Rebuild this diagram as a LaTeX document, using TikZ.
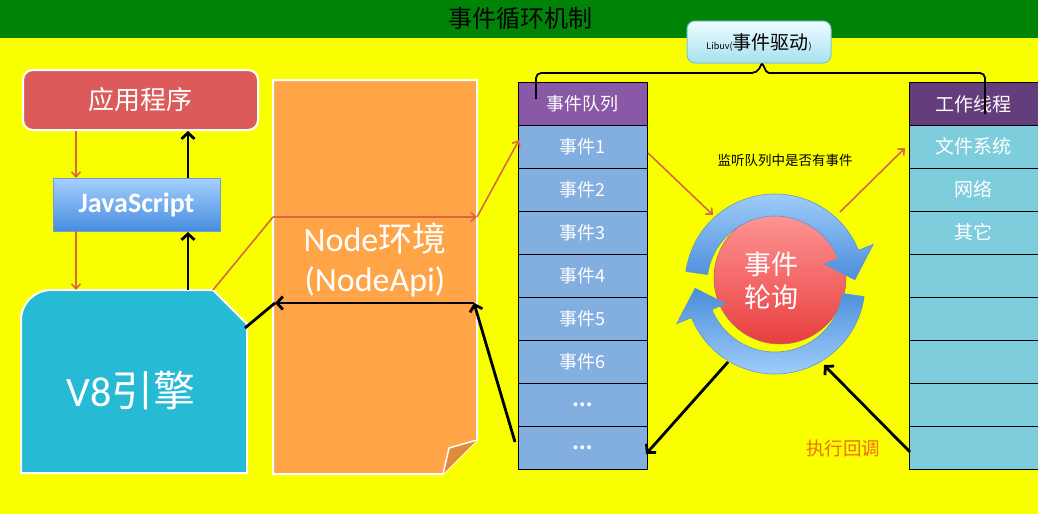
\documentclass[tikz,border=0pt]{standalone}
\usepackage{fontspec}
\setmainfont{Noto Sans CJK SC}
\newfontfamily\lat{Carlito}
\usetikzlibrary{arrows.meta}
\definecolor{bgyellow}{RGB}{250,255,0}
\definecolor{hdrgreen}{RGB}{0,132,8}
\definecolor{appred}{RGB}{221,90,90}
\definecolor{jstop}{RGB}{165,208,255}
\definecolor{jsbot}{RGB}{70,140,222}
\definecolor{jsedge}{RGB}{110,160,215}
\definecolor{v8cyan}{RGB}{38,186,212}
\definecolor{nodeor}{RGB}{255,165,72}
\definecolor{foldor}{RGB}{222,140,60}
\definecolor{qhead}{RGB}{137,88,166}
\definecolor{qrowc}{RGB}{130,174,224}
\definecolor{whead}{RGB}{100,62,124}
\definecolor{wrowc}{RGB}{125,205,220}
\definecolor{arrred}{RGB}{215,105,65}
\definecolor{cbor}{RGB}{240,110,20}
\definecolor{ringlight}{RGB}{165,208,252}
\definecolor{ringdark}{RGB}{75,142,218}
\definecolor{ringedge}{RGB}{95,150,205}
\definecolor{balltop}{RGB}{255,150,150}
\definecolor{ballbot}{RGB}{232,62,62}
\definecolor{libtop}{RGB}{240,252,255}
\definecolor{libbot}{RGB}{165,225,240}
\definecolor{libedge}{RGB}{130,195,210}
\begin{document}
\begin{tikzpicture}[x=1pt,y=-1pt,
  redarr/.style={draw=arrred,line width=1.6pt,-{Straight Barb[length=5pt,width=9pt]}},
  redline/.style={draw=arrred,line width=1.6pt},
  blkarr/.style={draw=black,line width=2.8pt,-{Straight Barb[length=6pt,width=13pt]}},
  blkline/.style={draw=black,line width=2.8pt},
  cell/.style={draw=black,line width=1pt,minimum width=129pt,minimum height=43pt,inner sep=0pt,text=white,font=\fontsize{18}{18}\selectfont},
  qcell/.style={cell,fill=qrowc},
  wcell/.style={cell,fill=wrowc},
  whitetxt/.style={text=white,inner sep=0pt}
]
\useasboundingbox (0,0) rectangle (1038,514);
\fill[bgyellow] (0,0) rectangle (1038,514);
\fill[hdrgreen] (0,0) rectangle (1038,38);
\node[font=\fontsize{24}{24}\selectfont] (title) at (520,18) {事件循环机制};

% left boxes
\node[fill=appred,draw=white,line width=2pt,rounded corners=10pt,minimum width=235pt,minimum height=60pt,text=white,font=\fontsize{26}{26}\selectfont] (app) at (140.5,100) {应用程序};
\node[top color=jstop,bottom color=jsbot,draw=jsedge,line width=0.8pt,minimum width=167pt,minimum height=53pt,text=white,font=\lat\bfseries\fontsize{28}{28}\selectfont] (js) at (136.5,204.5) {JavaScript};

% V8 shape
\filldraw[fill=v8cyan,draw=white,line width=2pt] (21,473) -- (21,320) arc[start angle=180,end angle=270,radius=30] -- (213,290) -- (247,324) -- (247,473) -- cycle;
\node[whitetxt,font=\fontsize{42}{42}\selectfont] (v8) at (131,390) {{\lat V8}引擎};

% Node environment
\filldraw[fill=nodeor,draw=white,line width=2pt] (273,80) -- (477,80) -- (477,440) -- (443,474) -- (273,474) -- cycle;
\filldraw[fill=foldor,draw=white,line width=1.5pt,line join=round] (477,440) -- (449,448) -- (443,474);
\node[whitetxt,align=center,font=\fontsize{34}{40}\selectfont] (nodeenv) at (375,260) {{\lat Node}环境\\{\lat(NodeApi)}};

% connector points
\coordinate (appA) at (76,131);
\coordinate (jsA) at (76,178);
\coordinate (appB) at (188,131);
\coordinate (jsB) at (188,178);
\coordinate (jsC) at (76,231);
\coordinate (v8A) at (76,290);
\coordinate (jsD) at (188,232);
\coordinate (v8B) at (188,290);
\coordinate (v8C) at (213,290);
\coordinate (envA) at (273,217);
\coordinate (envB) at (477,217);
\coordinate (envC) at (474,303);
\coordinate (envD) at (275,303);
\coordinate (v8D) at (245,328);

\draw[redarr] (appA) -- (jsA);
\draw[blkarr] (jsB) -- (appB);
\draw[redarr] (jsC) -- (v8A);
\draw[blkarr] (v8B) -- (jsD);

% event queue
\node[cell,fill=qhead] (q0) at (582.5,104) {事件队列};
\foreach \i/\t in {1/事件1,2/事件2,3/事件3,4/事件4,5/事件5,6/事件6,7/{\bfseries …},8/{\bfseries …}}
  \node[qcell] (q\i) at (582.5,{146.5+43*(\i-1)}) {\t};

% worker threads
\node[cell,fill=whead,font=\fontsize{19}{19}\selectfont] (w0) at (973.5,104) {工作线程};
\foreach \i/\t in {1/文件系统,2/网络,3/其它,4/,5/,6/,7/,8/}
  \node[wcell,font=\fontsize{19}{19}\selectfont] (w\i) at (973.5,{146.5+43*(\i-1)}) {\t};

% libuv box and brace
\node[top color=libtop,bottom color=libbot,draw=libedge,line width=1pt,rounded corners=8pt,minimum width=144pt,minimum height=42pt,inner sep=0pt] (libuv) at (759,42) {{\fontsize{9}{9}\selectfont Libuv(}{\fontsize{19}{19}\selectfont 事件驱动}{\fontsize{9}{9}\selectfont )}};
\draw[line width=1.8pt] (536,99) [rounded corners=5pt] -- (536,73) -- (757,73) [rounded corners=2pt] -- (762,63) -- (767,73) [rounded corners=5pt] -- (985,73) -- (985,114);

\node[font=\fontsize{13.5}{13.5}\selectfont] (listen) at (785,160) {监听队列中是否有事件};

% event loop ball and ring
\shade[top color=balltop,bottom color=ballbot,draw=ringedge!40!ballbot,line width=0.5pt] (780,278) circle[radius=66];
\begin{scope}[shift={(775,284)},yscale=-1]
\shade[top color=ringlight,bottom color=ringdark,draw=ringedge,line width=0.6pt]
  (172:90) arc[start angle=172,end angle=22,radius=90] -- (22:106) -- (3:80) -- (22:53) -- (22:68) arc[start angle=22,end angle=172,radius=68] -- cycle;
\shade[top color=ringdark,bottom color=ringlight,draw=ringedge,line width=0.6pt]
  (-8:90) arc[start angle=-8,end angle=-158,radius=90] -- (-158:106) -- (-177:80) -- (-158:53) -- (-158:68) arc[start angle=-158,end angle=-8,radius=68] -- cycle;
\end{scope}
\node[whitetxt,align=center,font=\fontsize{27}{33}\selectfont] (loop) at (771,281) {事件\\轮询};

\coordinate (qA) at (519,140);
\coordinate (qB) at (648,153);
\coordinate (loopA) at (713,215);
\coordinate (loopB) at (840,212);
\coordinate (wA) at (905,148);
\coordinate (loopC) at (728,362);
\coordinate (qC) at (646,454);
\coordinate (wB) at (910,452);
\coordinate (loopD) at (824,365);
\coordinate (qD) at (515,442);

\draw[redline] (v8C) -- (envA);
\draw[redarr] (envA) -- (envB);
\draw[redarr] (envB) -- (qA);
\draw[redarr] (qB) -- (loopA);
\draw[redarr] (loopB) -- (wA);
\draw[blkarr] (loopC) -- (qC);
\draw[blkarr] (wB) -- (loopD);
\draw[blkarr] (qD) -- (envC);
\draw[blkarr] (envC) -- (envD);
\draw[blkline] (envD) -- (v8D);

\node[text=cbor,font=\fontsize{18.5}{18.5}\selectfont] (cb) at (843,448) {执行回调};
\end{tikzpicture}
\end{document}
